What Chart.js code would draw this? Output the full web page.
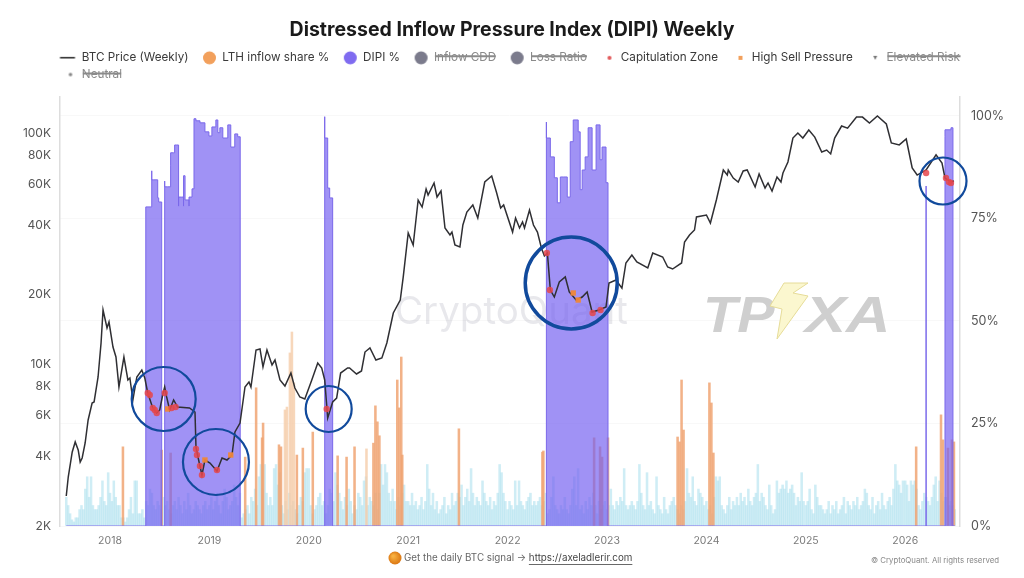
<!DOCTYPE html>
<html><head><meta charset="utf-8">
<style>html,body{margin:0;padding:0;background:#fff}canvas{display:block}</style>
<script src="https://cdn.jsdelivr.net/npm/chart.js@4"></script></head>
<body><canvas id="c" width="1024" height="578"></canvas>
<script>
const xYears=[2018,2019,2020,2021,2022,2023,2024,2025,2026];
const priceTicks=[2000,4000,6000,8000,10000,20000,40000,60000,80000,100000];
const pctTicks=[0,25,50,75,100];
const btcYears=[2017.56,2017.58,2017.62,2017.65,2017.68,2017.70,2017.72,2017.75,2017.78,2017.82,2017.84,2017.88,2017.91,2017.93,2017.97,2017.99,
2018.03,2018.06,2018.09,2018.14,2018.18,2018.20,2018.23,2018.27,2018.32,2018.35,2018.38,2018.43,2018.47,2018.50,2018.53,2018.55,2018.57,2018.60,2018.64,2018.68,2018.80,2018.855,2018.865,2018.885,2018.925,2018.955,
2019.006,2019.076,2019.127,2019.177,2019.227,2019.257,2019.308,2019.358,2019.398,2019.418,2019.469,2019.509,2019.539,2019.579,2019.63,2019.66,2019.71,2019.76,2019.82,2019.86,2019.91,2019.96,
2020.03,2020.09,2020.13,2020.16,2020.19,2020.24,2020.28,2020.32,2020.39,2020.41,2020.48,2020.53,2020.565,2020.615,2020.675,2020.735,2020.785,2020.85,2020.92,2020.95,
2021.0,2021.05,2021.10,2021.14,2021.18,2021.20,2021.26,2021.29,2021.33,2021.37,2021.42,2021.44,2021.47,2021.52,2021.55,2021.59,2021.65,2021.70,2021.77,2021.84,2021.89,2021.93,2021.96,
2022.05,2022.08,2022.12,2022.15,2022.17,2022.22,2022.26,2022.30,2022.34,2022.37,2022.40,2022.43,2022.47,2022.52,2022.58,2022.62,2022.69,2022.75,2022.80,2022.85,2022.92,2022.99,
2023.02,2023.09,2023.15,2023.19,2023.25,2023.30,2023.41,2023.46,2023.56,2023.61,2023.66,2023.75,2023.78,2023.83,2023.88,2023.90,
2024.00,2024.04,2024.10,2024.17,2024.21,2024.22,2024.27,2024.32,2024.37,2024.41,2024.49,2024.53,2024.59,2024.62,2024.66,2024.71,2024.75,2024.77,2024.82,2024.87,2024.92,2024.97,
2025.03,2025.09,2025.16,2025.21,2025.25,2025.29,2025.36,2025.42,2025.51,2025.57,2025.64,2025.72,2025.81,2025.86,2025.94,
2026.01,2026.07,2026.12,2026.21,2026.31,2026.37,2026.40,2026.46,2026.49];
const btcPrices=[2695,3256,4178,4616,4262,3782,3936,4570,5745,6804,6873,8815,12364,17170,14355,15235,
11880,10755,7978,10755,8556,8728,7010,8815,9452,8728,7516,6473,6160,6346,7368,7978,7222,6346,7010,6537,6473,6220,4390,3975,3322,3858,
3745,3458,3936,3858,4054,5100,5576,7978,8386,7978,11530,11648,9738,11530,9932,10438,8556,8058,9170,7900,7222,7080,
8556,10130,9640,8556,5860,6873,7150,9170,9640,9640,9080,9356,11300,11764,10438,10650,12364,16666,18968,23860,
36960,32800,51320,47860,57260,53940,60800,52880,56140,38840,36220,37320,32800,32140,40020,45540,48840,42900,61400,65160,55000,47400,48840,
37320,42900,38840,41240,38840,46460,40020,37320,31820,29400,30300,20940,19540,22680,23860,20540,18968,19540,20540,16830,17170,17690,
22460,23140,21360,27420,29680,27700,26080,30300,29100,26340,25820,27420,33800,36220,38080,43340,
44200,40820,51320,69200,65800,69200,63880,61400,68500,69200,58400,66480,57840,60800,56140,64520,61400,67140,74920,95140,100000,95140,
103000,96000,82800,84400,81200,95140,107200,105000,117200,117200,110400,118400,109400,90600,88800,
94200,70600,65800,69200,80400,74200,63880,61400,62000];
const dipiYears=[2017.56,2018.36,2018.36,2018.42,2018.42,2018.44,2018.48,2018.49,2018.52,2018.53,
2018.55,2018.55,2018.58,2018.61,2018.61,2018.64,2018.65,2018.65,2018.67,2018.69,2018.69,2018.72,2018.74,2018.74,2018.755,2018.775,2018.795,2018.795,2018.825,2018.845,2018.865,2018.905,2018.955,2018.995,
2019.025,2019.065,2019.085,2019.105,2019.135,2019.185,2019.215,2019.255,2019.285,2019.31,2019.33,
2020.16,2020.16,2020.19,2020.21,2020.24,2020.27,
2022.39,2022.39,2022.43,2022.47,2022.50,2022.53,2022.56,2022.60,2022.60,2022.63,2022.66,2022.71,2022.73,2022.75,2022.78,2022.81,2022.85,2022.89,2022.93,2022.95,2022.99,2023.01,2023.03,
2026.21,2026.21,2026.23,
2026.40,2026.40,2026.46,2026.48,2026.50];
const dipiPct=[0,0,77.8,77.8,86.6,84.4,84.4,80,79,0,
0,84.1,82.7,82.7,88,91,91,92.9,92.9,92.9,78,80.2,80.2,78,85.4,79.5,79.5,78,80.2,82.2,99.3,98.8,98.3,96.1,
95.1,97.3,99,95.9,97.1,94.6,97.8,92.4,95.6,94.9,0,
0,99.8,94.6,82.4,80,0,
0,98.5,94.6,90,84.9,78.8,85.1,85.1,82.4,80.2,93.7,99,96.1,82,86.8,90,97.1,86.8,97.8,89.3,92.4,83.7,0,
0,82.9,0,
0,94.9,96.6,97.1,0];
const lthYears=[2018.13,2018.52,2018.61,2019.36,2019.47,2019.53,2019.54,2019.70,2019.72,2019.88,2019.94,2020.04,2020.29,2020.38,2020.46,2020.65,2020.67,2020.69,2020.71,2020.89,2020.91,2020.93,2020.94,2021.51,2022.35,2022.36,2022.87,2022.93,2022.95,2023.01,2023.71,2023.73,2023.75,2023.77,2024.03,2024.05,2024.07,2026.11,2026.36,2026.38,2026.43,2026.47,2026.49];
const lthPct=[19.3,18.5,17.8,16.8,33.7,21.5,25.1,19.8,19.3,17.3,19,22.9,17.1,16.8,19.3,20.2,29.3,25.4,22,35.6,28.8,41.2,17.3,23.7,18,18.3,21.5,19.3,16.8,21.5,21.7,20.5,35.6,23.4,34.9,30,17.8,19.3,27.1,21,19,21,20.5];
const lthPaleYears=[2019.76,2019.78,2019.81,2019.83,2019.85,2020.58];
const lthPalePct=[28.3,29,42.2,47.3,34.9,18.8];
const blue2017=[7,5,3,1.5,1,2,2,4,5,4,9,12,7,12,5,4,4,5,7,11,6,5,13];
const blue2018=[8,6,11,7,5,5,2,2,1,2,4,7,3,11,11,3,3,4,2,6,5,9,8,5,4,6,5,4,7,5,6,4,3,5,6,4,7,5,3,6,4,8,5,3,4,6,5,4,3,5,6,4];
const blue2019=[5,7,4,6,8,5,3,6,9,7,4,5,6,10,7,5,8,2,3,4,5,3,7,6,9,5,12,15,9,15,8,5,7,5,14,15,10,13,5,3,6,4,8,5,6,4,3,5,7,6,13,14];
const blue2020=[14,5,3,4,5,7,8,5,6,3,5,9,8,6,13,10,8,6,4,7,5,9,6,3,5,4,8,7,5,11,12,5,7,6,5,8,4,8,15,10,15,13,8,6,9,6,4,7,5,8,10,6];
const blue2021=[6,5,8,5,6,4,5,7,4,6,15,9,5,8,4,6,3,4,5,7,3,5,4,8,5,6,8,7,10,5,7,9,6,14,8,5,7,6,5,11,8,6,5,7,4,6,5,8,15,13,8,6];
const blue2022=[4,6,5,4,11,5,11,6,5,4,6,7,8,5,6,5,6,7,5,6,8,3,4,7,12,5,4,3,5,4,7,4,3,5,9,12,5,14,4,5,3,6,4,7,5,8,5,3,6,4,5,6];
const blue2023=[4,5,9,5,4,6,5,7,6,14,5,4,5,6,5,4,6,15,8,5,4,13,5,6,4,3,12,5,4,3,7,4,3,5,6,7,5,4,3,5,4,6,14,8,7,12,6,5,9,8,7,5];
const blue2024=[6,4,5,3,7,12,11,12,5,4,3,5,7,4,6,5,7,5,8,6,7,5,9,6,5,7,8,15,6,8,7,5,4,10,5,3,4,11,8,9,10,9,11,8,9,10,8,5,7,6,13,6];
const blue2025=[5,6,9,4,3,10,7,5,5,4,3,4,6,3,5,4,6,3,4,5,7,3,6,5,4,6,5,7,4,5,6,9,8,5,4,7,3,5,6,4,8,5,4,6,7,5,9,15,11,10,8,11];
const blue2026=[11,10,6,11,10,11,9,5,4,6,8,7,6,5,7,10,12,6,11,8,6,7,7,5,6,5,4];
const capYears=[2018.38,2018.40,2018.43,2018.45,2018.47,2018.55,2018.62,2018.66,2018.865,2018.875,2018.905,2018.925,2019.076,2020.18,2022.395,2022.425,2022.855,2022.935,2026.21,2026.41,2026.44,2026.46];
const capPrices=[7516,7368,6473,6346,6160,7516,6473,6537,4304,4054,3634,3322,3493,6410,30300,20940,16666,17170,67140,63880,61400,60800];
const sellYears=[2018.58,2018.955,2019.215,2022.66,2022.71];
const sellPrices=[6410,3858,4054,20340,18968];
const ringYears=[2018.54,2019.066,2020.20,2022.64,2026.38];
const ringPrices=[7080,3782,6410,22460,62000];
const ringRadii=[32,33,23,46,23.5];

const zip=(xs,ys)=>xs.map((x,i)=>({x,y:ys[i]}));
const weekly=(start,vals)=>vals.map((y,i)=>({x:start+i/52.18,y}));
const blue=[].concat(weekly(2017.56,blue2017),weekly(2018,blue2018),weekly(2019,blue2019),weekly(2020,blue2020),weekly(2021,blue2021),weekly(2022,blue2022),weekly(2023,blue2023),weekly(2024,blue2024),weekly(2025,blue2025),weekly(2026,blue2026));

function icon(draw){const c=document.createElement('canvas');c.width=50;c.height=20;const g=c.getContext('2d');draw(g);return c;}
const dot=(col,r,cx)=>icon(g=>{g.fillStyle=col;g.beginPath();g.arc(cx,10,r,0,7);g.fill();});
const icons=[
 icon(g=>{g.fillStyle='#333';g.fillRect(20.5,9,15,1.6);}),
 dot('#f2a05c',6.5,29.5),dot('#7f6bf0',6.5,29.5),dot('#7b7b8c',6.5,29.5),dot('#7b7b8c',6.5,29.5),
 dot('#e2595a',2,31),
 icon(g=>{g.fillStyle='#f2a05c';g.fillRect(29,8,4,4);}),
 icon(g=>{g.fillStyle='#777';g.beginPath();g.moveTo(29,8);g.lineTo(33,8);g.lineTo(31,12);g.fill();}),
 dot('#888',1.8,31)
];

const decor={id:'decor',
 beforeLayout(ch){const l=ch.legend,f=l.fit;l.fit=function(){this.maxWidth=950;f.call(this);this.height=50;};},
 afterLayout(ch){ch.legend.left=48;},
 beforeDatasetsDraw(ch){const g=ch.ctx;g.save();
  g.textBaseline='alphabetic';g.textAlign='left';
  g.fillStyle='rgba(140,140,160,0.2)';g.font='400 38.5px Inter';g.fillText('CryptoQuant',395,324);
  g.fillStyle='#cfcfcf';g.font='italic 900 50px "Liberation Sans"';
  g.save();g.translate(703,332);g.scale(1.12,1);g.fillText('TP',0,0);g.restore();
  g.save();g.translate(805,332);g.scale(1.23,1);g.fillText('XA',0,0);g.restore();
  g.fillStyle='#fbf7cf';g.strokeStyle='#e6dc98';g.lineWidth=1;g.beginPath();
  g.moveTo(784,283);g.lineTo(770,306);g.lineTo(782,309);g.lineTo(777,339);g.lineTo(808,296);g.lineTo(793,293);g.lineTo(808,283);g.closePath();g.fill();g.stroke();
  g.restore();},
 afterDraw(ch){const g=ch.ctx;g.save();
  const gr=g.createRadialGradient(393,556,1,395,558,7);gr.addColorStop(0,'#f8b040');gr.addColorStop(1,'#d9730f');
  g.fillStyle=gr;g.beginPath();g.arc(395,558,6.5,0,7);g.fill();
  g.textBaseline='middle';g.textAlign='left';g.font='9.8px Inter';g.fillStyle='#666';
  const a='Get the daily BTC signal → ';g.fillText(a,404,558);
  const w=g.measureText(a).width;const u='https://axeladlerir.com';g.fillStyle='#444';g.fillText(u,404+w,558);
  g.fillRect(404+w,564,g.measureText(u).width,0.8);
  g.textAlign='right';g.font='7.8px Inter';g.fillStyle='#888';g.fillText('© CryptoQuant. All rights reserved',999,561);
  g.restore();}
};

new Chart(document.getElementById('c'),{
 data:{datasets:[
  {type:'line',label:'BTC Price (Weekly)',data:zip(btcYears,btcPrices),yAxisID:'y',borderColor:'#2f2f33',borderWidth:1.5,pointRadius:0,tension:0,order:2},
  {type:'bar',label:'LTH inflow share %',data:zip(lthYears,lthPct),yAxisID:'pct',backgroundColor:'rgba(240,165,115,0.85)',barThickness:1.9,grouped:false,order:4},
  {type:'line',label:'DIPI %',data:zip(dipiYears,dipiPct),yAxisID:'pct',stepped:'after',fill:'origin',backgroundColor:'rgba(115,95,240,0.68)',borderColor:'#7a68ea',borderWidth:1,pointRadius:0,order:3},
  {type:'line',label:'Inflow CDD',data:[],yAxisID:'pct',hidden:true},
  {type:'line',label:'Loss Ratio',data:[],yAxisID:'pct',hidden:true},
  {type:'scatter',label:'Capitulation Zone',data:zip(capYears,capPrices),yAxisID:'y',backgroundColor:'rgba(230,70,75,0.85)',borderWidth:0,pointRadius:3.2,order:1},
  {type:'scatter',label:'High Sell Pressure',data:zip(sellYears,sellPrices),yAxisID:'y',backgroundColor:'rgba(240,135,55,0.95)',pointStyle:'rect',borderWidth:0,pointRadius:3.8,order:1},
  {type:'scatter',label:'Elevated Risk',data:[],yAxisID:'y',hidden:true},
  {type:'scatter',label:'Neutral',data:[],yAxisID:'y',hidden:true},
  {type:'bar',label:'pale',data:zip(lthPaleYears,lthPalePct),yAxisID:'pct',backgroundColor:'rgba(245,205,170,0.8)',barThickness:1.9,grouped:false,order:5},
  {type:'bar',label:'blue',data:blue,yAxisID:'pct',backgroundColor:'rgba(175,225,238,0.6)',barThickness:1.9,grouped:false,order:6},
  {type:'bubble',label:'rings',clip:false,data:ringYears.map((x,i)=>({x,y:ringPrices[i],r:ringRadii[i]})),yAxisID:'y',backgroundColor:'rgba(0,0,0,0)',borderColor:'#114a9c',borderWidth:c=>c.raw&&c.raw.r>40?3.5:2.2,order:0}
 ]},
 options:{responsive:false,animation:false,events:[],devicePixelRatio:1,
  layout:{padding:0},
  plugins:{
   title:{display:true,text:'Distressed Inflow Pressure Index (DIPI) Weekly',color:'#1a1a1a',font:{family:'Inter',size:19.5,weight:'700'},padding:{top:18,bottom:5.6}},
   legend:{display:true,position:'top',align:'start',onClick:null,
    labels:{font:{family:'Inter',size:11.7},padding:5,usePointStyle:true,pointStyleWidth:23,
     generateLabels(ch){return Chart.defaults.plugins.legend.labels.generateLabels(ch)
       .filter(it=>it.datasetIndex<9).sort((a,b)=>a.datasetIndex-b.datasetIndex).map(it=>{
       it.pointStyle=icons[it.datasetIndex];
       it.fontColor=it.hidden?'#8a8a8a':'#3a3a3a';it.lineWidth=0;return it;});}}},
   tooltip:{enabled:false}},
  scales:{
   x:{type:'linear',min:2017.497,max:2026.551,bounds:'data',offset:false,
    afterBuildTicks:s=>{s.ticks=xYears.map(v=>({value:v}));},afterFit:s=>{s.height=52;},
    grid:{display:false,drawTicks:false},border:{display:false},
    ticks:{color:'#7a7a7a',font:{family:'Inter',size:10.5},padding:9,autoSkip:false,maxRotation:0,callback:v=>String(v)}},
   y:{type:'logarithmic',position:'left',min:2000,max:143100,bounds:'data',
    afterBuildTicks:s=>{s.ticks=priceTicks.map(v=>({value:v}));},afterFit:s=>{s.width=60;},
    grid:{display:false,drawTicks:false},border:{display:true,color:'#dddddd',width:1.5},
    ticks:{color:'#555',font:{family:'Inter',size:12},padding:9,autoSkip:false,callback:v=>(v/1000)+'K'}},
   pct:{type:'linear',axis:'y',position:'right',min:0,max:104.6,bounds:'data',
    afterBuildTicks:s=>{s.ticks=pctTicks.map(v=>({value:v}));},afterFit:s=>{s.width=64;},
    grid:{color:'#f8f8f8',drawTicks:false},border:{display:true,color:'#dddddd',width:1.5},
    ticks:{color:'#555',font:{family:'Inter',size:12.5},padding:11,autoSkip:false,callback:v=>v+'%'}}
  }},
 plugins:[decor]
});
</script></body></html>
